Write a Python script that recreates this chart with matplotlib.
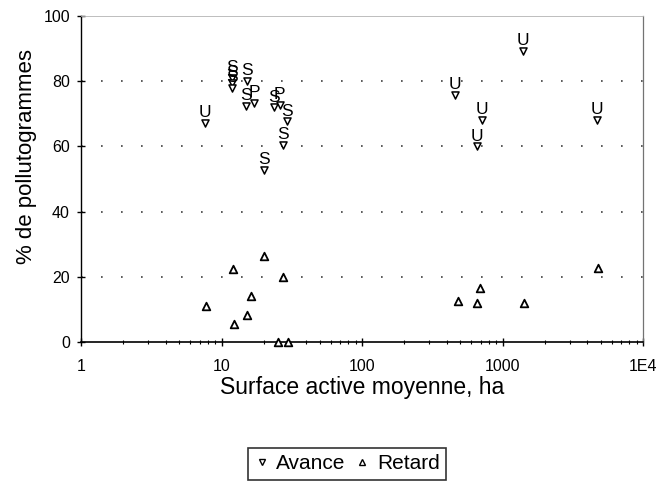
import numpy as np
import matplotlib
matplotlib.use("Agg")
import matplotlib.pyplot as plt
from matplotlib.lines import Line2D

plt.rcParams['font.family'] = ['Liberation Sans', 'DejaVu Sans']

# -------------------------------
# Data
# -------------------------------
avance_x = [7.6, 11.8, 11.8, 11.8, 15.1, 14.9, 17.0, 20.1, 23.5, 26.0, 27.3, 29.1,
            459, 655, 711, 1406, 4680]
avance_y = [67.2, 81.0, 79.5, 78.0, 80.0, 72.5, 73.3, 52.8, 72.0, 72.8, 60.5, 67.7,
            75.9, 60.0, 68.2, 89.2, 68.2]
avance_lab = ["U", "S", "S", "S", "S", "S", "P", "S", "S", "P", "S", "S",
              "U", "U", "U", "U", "U"]

retard_x = [7.7, 12.0, 12.2, 15.3, 16.1, 20.1, 25.4, 27.3, 29.6,
            480, 662, 695, 1413, 4808]
retard_y = [11.1, 22.5, 5.4, 8.4, 14.2, 26.4, 0.0, 20.0, 0.0,
            12.5, 12.0, 16.7, 12.0, 22.6]

y_ticks = [0, 20, 40, 60, 80, 100]
x_ticks = [1, 10, 100, 1000, 10000]
x_tick_labels = ["1", "10", "100", "1000", "1E4"]

# -------------------------------
# Plot
# -------------------------------
fig = plt.figure(figsize=(6.65, 4.91), dpi=100)
ax = fig.add_axes([81 / 665, 1 - 342 / 491, 562 / 665, 326 / 491])

ax.set_xscale("log")
ax.set_xlim(1, 10000)
ax.set_ylim(0, 100)

for g in [20, 40, 60, 80]:
    ax.axhline(g, color="0.25", lw=1.2, ls=(0, (1, 11)), zorder=1)

ax.scatter(avance_x, avance_y, marker="v", s=26, facecolors="white",
           edgecolors="black", linewidths=1.1, zorder=3)
ax.scatter(retard_x, retard_y, marker="^", s=30, facecolors="white",
           edgecolors="black", linewidths=1.3, zorder=3, clip_on=False)

for x, y, lab in zip(avance_x, avance_y, avance_lab):
    ax.annotate(lab, (x, y), xytext=(0, 2), textcoords="offset points",
                ha="center", va="bottom", fontsize=12.5, zorder=4)

ax.set_yticks(y_ticks)
ax.set_xticks(x_ticks)
ax.set_xticklabels(x_tick_labels)
ax.tick_params(axis="both", which="major", direction="inout", length=6,
               width=1, labelsize=11.5, color="black")
ax.tick_params(axis="x", which="minor", direction="inout", length=3, width=0.8)
ax.tick_params(axis="x", which="major", pad=9)
ax.tick_params(axis="y", which="major", pad=5)

ax.spines["left"].set_linewidth(1.0)
ax.spines["bottom"].set_linewidth(1.2)
ax.spines["right"].set_color("0.45")
ax.spines["right"].set_linewidth(0.9)
ax.spines["top"].set_color("0.7")
ax.spines["top"].set_linewidth(0.6)

ax.set_ylabel("% de pollutogrammes", fontsize=16)
ax.yaxis.set_label_coords(-0.078, 0.57)
ax.set_xlabel("Surface active moyenne, ha", fontsize=16.5, labelpad=2)

handles = [
    Line2D([], [], marker="v", ls="none", markersize=5, markerfacecolor="white",
           markeredgecolor="black", markeredgewidth=1.0, label="Avance"),
    Line2D([], [], marker="^", ls="none", markersize=5, markerfacecolor="white",
           markeredgecolor="black", markeredgewidth=1.0, label="Retard"),
]
leg = fig.legend(handles=handles, loc="upper center", bbox_to_anchor=(347 / 665, 1 - 448 / 491),
                 ncol=2, fontsize=15, frameon=True, fancybox=False, borderpad=0.3,
                 handlelength=0.7, handletextpad=0.35, columnspacing=0.45, borderaxespad=0)
leg.get_frame().set_edgecolor("black")
leg.get_frame().set_linewidth(1.2)

fig.savefig("out.png", dpi=100)
